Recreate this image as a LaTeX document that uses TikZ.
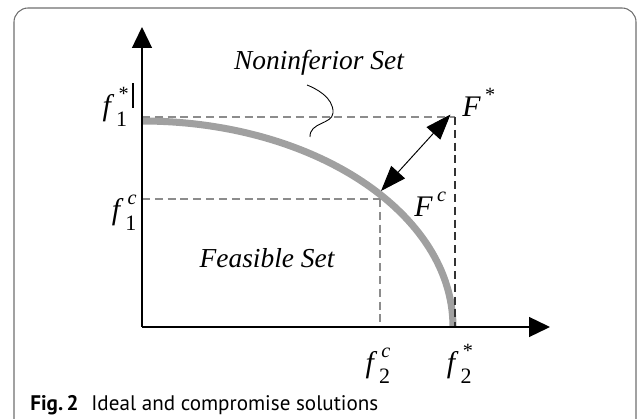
\documentclass[tikz,border=0pt]{standalone}
\usepackage{fontspec}
\setmainfont{Liberation Serif}
\newfontfamily\capfont{PT Sans}
\usetikzlibrary{arrows.meta,positioning,calc}
\definecolor{FrameGray}{HTML}{6E6E6E}
\definecolor{CurveGray}{HTML}{A0A0A0}
\definecolor{GuideGray}{HTML}{8C8C8C}
\newcommand{\objval}[3]{\textit{#1}\kern0.06em\rlap{\raisebox{-0.34em}{\fontsize{12.5}{12}\selectfont #2}}\kern0.08em\raisebox{0.52em}{\fontsize{11.5}{11}\selectfont #3}}

\begin{document}
\begin{tikzpicture}[every node/.style={font=\fontsize{15.6}{18}\selectfont\itshape,inner sep=0pt},
    axis/.style={line width=0.85pt,-{Triangle[length=11.9pt,width=11.3pt]}},
    guide/.style={GuideGray,line width=0.7pt,dash pattern=on 4.5pt off 2.8pt},
    front/.style={CurveGray,line width=4pt},
    tradeoff/.style={line width=0.55pt,{Triangle[length=14.5pt,width=10.5pt]}-{Triangle[length=14.5pt,width=10.5pt]}},
    objlab/.style={font=\fontsize{17}{18}\selectfont}]
    \useasboundingbox (-2.84,-1.84) rectangle (9.90,6.54);
    % frame
    \draw[FrameGray,line width=0.6pt,rounded corners=8pt] (-2.56,-1.95) -- (-2.56,6.38) -- (9.88,6.38) -- (9.88,-1.95);

    \coordinate (o) at (0,0);
    \coordinate (ytip) at (0,6.00);
    \coordinate (xtip) at (8.16,0);
    \coordinate (f1s) at (0,4.20);
    \coordinate (fstar) at (6.26,4.20);
    \coordinate (f2s) at (6.26,0);
    \coordinate (f1c) at (0,2.56);
    \coordinate (fc) at (4.76,2.56);
    \coordinate (f2c) at (4.76,0);
    \coordinate (fc-on) at (4.78,2.72);
    \coordinate (fstar-in) at (6.17,4.25);

    % noninferior front
    \draw[front] (0,4.12) arc[start angle=90,end angle=0,x radius=6.22,y radius=4.12];

    \draw[guide] (f1s) -- (fstar);
    \draw[guide,black!80] (fstar) -- (f2s);
    \draw[guide] (f1c) -- (fc);
    \draw[guide] (fc) -- (f2c);

    \draw[axis] (o) -- (ytip);
    \draw[axis] (o) -- (xtip);
    \draw[tradeoff] (fc-on) -- (fstar-in);

    \draw[line width=0.5pt] (3.30,4.84) .. controls (3.45,4.78) and (3.84,4.60) .. (3.82,4.28)
        .. controls (3.80,4.05) and (3.35,4.10) .. (3.36,3.80);
    \draw[line width=0.6pt] (-0.18,4.38) -- (-0.18,4.88);

    \node[anchor=base] (nonset) at (3.54,5.14) {Noninferior Set};
    \node[anchor=base] (feas) at (2.50,1.18) {Feasible Set};
    \node[objlab,anchor=base west] (lFs) at (6.40,4.20) {\objval{F}{}{*}};
    \node[objlab,anchor=base west] (lFc) at (5.44,2.20) {\objval{F}{}{\textit{c}}};
    \node[objlab,anchor=base east] (lf1s) at (-0.26,4.22) {\objval{f}{1}{*}};
    \node[objlab,anchor=base east] (lf1c) at (-0.10,2.14) {\objval{f}{1}{\textit{c}}};
    \node[objlab,anchor=base] (lf2c) at (4.72,-0.92) {\objval{f}{2}{\textit{c}}};
    \node[objlab,anchor=base] (lf2s) at (6.36,-0.92) {\objval{f}{2}{*}};

    \node[anchor=base west,font=\capfont\fontsize{12}{14}\selectfont] (cap) at (-2.24,-1.66)
        {\textbf{Fig.\,2}\hspace{0.6em}Ideal and compromise solutions};
\end{tikzpicture}
\end{document}
